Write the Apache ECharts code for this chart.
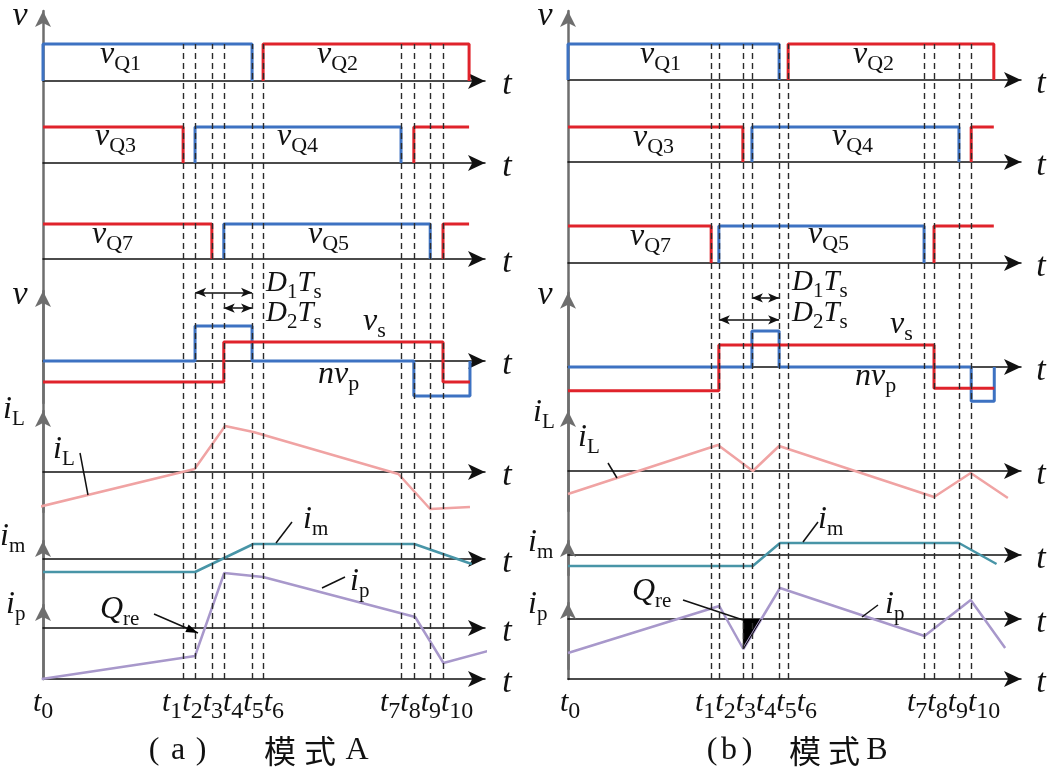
<!DOCTYPE html>
<html>
<head>
<meta charset="utf-8">
<script src="https://cdn.jsdelivr.net/npm/echarts@6/dist/echarts.min.js"></script>
<style>
html,body{margin:0;padding:0;background:#fff}
#chart{width:1050px;height:770px}
</style>
</head>
<body>
<div id="chart"></div>
<script>
// switching instants t0..t10 on a 0..100 time scale
const tA = [0, 31.7, 34.4, 38.2, 40.9, 47.3, 49.8, 81.0, 83.9, 87.6, 90.5];
const tB = [0, 31.6, 33.3, 38.6, 40.6, 46.6, 48.6, 78.6, 80.8, 86.3, 89.0];
const endA = 96.4, endB = 94.0;

// mode A gate signals ([time, level], drawn as steps)
const vQ1A = [[tA[0], 0], [tA[0], 1], [tA[5], 0]];
const vQ2A = [[tA[6], 0], [tA[6], 1], [endA, 0]];
const vQ3A = [[tA[0], 1], [tA[1], 0]];
const vQ4A = [[tA[2], 0], [tA[2], 1], [tA[7], 0]];
const vQ3Anext = [[tA[8], 0], [tA[8], 1], [endA, 1]];
const vQ7A = [[tA[0], 1], [tA[3], 0]];
const vQ5A = [[tA[4], 0], [tA[4], 1], [tA[9], 0]];
const vQ7Anext = [[tA[10], 0], [tA[10], 1], [endA, 1]];
// mode A transformer voltages
const nvpA = [[0, 0], [tA[2], 1], [tA[5], 0], [tA[8], -1], [96.6, 0]];
const vsA = [[0, -0.6], [tA[4], 0.54], [tA[10], -0.6], [96.6, -0.6]];
// mode A currents
const iLA = [[-1, -3.5], [34.3, 0.3], [41.2, 4.6], [47.6, 4.0], [80.4, -0.2], [87.6, -3.7], [96.6, -3.5]];
const imA = [[0, -1.3], [34.4, -1.3], [47.6, 1.5], [84.0, 1.5], [97.0, -0.5]];
const ipA = [[-0.3, -5.1], [34.4, -2.8], [41.0, 5.5], [49.8, 5.1], [84.2, 1.1], [90.6, -3.5], [100.7, -2.3]];

// mode B gate signals
const vQ1B = [[tB[0], 0], [tB[0], 1], [tB[5], 0]];
const vQ2B = [[tB[6], 0], [tB[6], 1], [endB, 0]];
const vQ3B = [[tB[0], 1], [tB[3], 0]];
const vQ4B = [[tB[4], 0], [tB[4], 1], [tB[9], 0]];
const vQ3Bnext = [[tB[10], 0], [tB[10], 1], [endB, 1]];
const vQ7B = [[tB[0], 1], [tB[1], 0]];
const vQ5B = [[tB[2], 0], [tB[2], 1], [tB[7], 0]];
const vQ7Bnext = [[tB[8], 0], [tB[8], 1], [endB, 1]];
const nvpB = [[0, 0], [tB[4], 1], [tB[5], 0], [tB[10], -0.95], [94.1, 0]];
const vsB = [[0, -0.66], [tB[2], 0.61], [tB[8], -0.59], [94.1, -0.59]];
const iLB = [[0, -2.3], [33.1, 2.6], [40.8, 0], [46.6, 2.5], [80.8, -2.6], [88.9, -0.2], [97.1, -2.7]];
const imB = [[0, -1.1], [40.8, -1.1], [46.8, 1.2], [86.3, 1.2], [94.6, -0.9]];
const ipB = [[0, -3.4], [33.4, 1.3], [38.7, -3.0], [46.8, 3.1], [78.7, -1.7], [88.9, 1.9], [96.5, -2.9]];

const BLUE = '#3d72c2', RED = '#e0232b', PINK = '#f0a3a3', TEAL = '#4895a7', LILAC = '#a898cb';
const AXIS = '#111', VAXIS = '#6e6e6e';
const FONT = '"Liberation Serif", "Times New Roman", serif';

let chart = echarts.init(document.getElementById('chart'));
let grids = [], xAxes = [], yAxes = [], series = [], graphics = [];

// one grid per trace row; axisY is the pixel row of the zero line
function addGrid(left, width, r) {
    let idx = grids.length;
    grids.push({left: left, width: width, top: r.axisY - r.max * r.ppu, height: (r.max - r.min) * r.ppu});
    xAxes.push({
        gridIndex: idx, type: 'value', min: 0, max: 100, show: r.x !== false,
        axisLine: {show: true, onZero: true, symbol: ['none', 'arrow'], symbolSize: [12, 17], lineStyle: {color: AXIS, width: 1.5}},
        axisTick: {show: false}, axisLabel: {show: false}, splitLine: {show: false}
    });
    yAxes.push({
        gridIndex: idx, type: 'value', min: r.min, max: r.max, show: !!r.y,
        axisLine: {show: true, symbol: ['none', 'arrow'], symbolSize: [12, 16], lineStyle: {color: VAXIS, width: 2.5}},
        axisTick: {show: false}, axisLabel: {show: false}, splitLine: {show: false}
    });
    return idx;
}

function wave(idx, data, color, width, step) {
    let s = {
        type: 'line', xAxisIndex: idx, yAxisIndex: idx, data: data, step: step ? 'end' : false,
        symbol: 'none', clip: false, silent: true, z: 3,
        lineStyle: {color: color, width: width}
    };
    series.push(s);
    return s;
}

function richSet(m, s, drop) {
    let p = Math.max(0, 2 * (0.34 * m + drop * m - 0.34 * s));
    return {
        m: {fontSize: m, fontStyle: 'italic', fontFamily: FONT, fill: '#111', lineHeight: m},
        s: {fontSize: s, fontFamily: FONT, fill: '#111', lineHeight: s, padding: [p, 0, 0, 0]}
    };
}

function label(x, base, text, m, s, drop) {
    graphics.push({
        type: 'text', x: x, y: base - 0.34 * m, silent: true, z: 50,
        style: {text: text, rich: richSet(m, s, drop == null ? 0.22 : drop), align: 'left', verticalAlign: 'middle'}
    });
}

function plain(x, y, text, size, family, italic) {
    graphics.push({
        type: 'text', x: x, y: y, silent: true, z: 50,
        style: {text: text, fontSize: size, fontFamily: family, fontStyle: italic ? 'italic' : 'normal',
            fill: '#111', align: 'center', verticalAlign: 'middle'}
    });
}

function leader(l, arrow) {
    graphics.push({type: 'line', silent: true, z: 50, shape: {x1: l[0], y1: l[1], x2: l[2], y2: l[3]},
        style: {stroke: '#111', lineWidth: 1.5}});
    if (arrow) {
        let dx = l[2] - l[0], dy = l[3] - l[1], len = Math.hypot(dx, dy);
        let ux = dx / len, uy = dy / len;
        let bx = l[2] - ux * 12, by = l[3] - uy * 12;
        graphics.push({type: 'polygon', silent: true, z: 50,
            shape: {points: [[l[2], l[3]], [bx - uy * 4, by + ux * 4], [bx + uy * 4, by - ux * 4]]},
            style: {fill: '#000'}});
    }
}

function sub(main, s) { return '{m|' + main + '}{s|' + s + '}'; }
function ticks(list) { return list.map(i => sub('t', i)).join(''); }

function buildPanel(p) {
    let g = p.rows.map(r => addGrid(p.left, p.width, r));
    let frame = addGrid(p.left, p.width, {axisY: 679, ppu: 668, min: 0, max: 1, y: true});
    let dash = addGrid(p.left, p.width, {axisY: 679, ppu: 635, min: 0, max: 1, x: false});
    wave(g[0], p.vQ1, BLUE, 3, true); wave(g[0], p.vQ2, RED, 3, true);
    wave(g[1], p.vQ3, RED, 3, true); wave(g[1], p.vQ4, BLUE, 3, true); wave(g[1], p.vQ3next, RED, 3, true);
    wave(g[2], p.vQ7, RED, 3, true); wave(g[2], p.vQ5, BLUE, 3, true); wave(g[2], p.vQ7next, RED, 3, true);
    let np = wave(g[3], p.nvp, BLUE, 3, true);
    wave(g[3], p.vs, RED, 3, true);
    np.markLine = {
        silent: true, symbol: ['arrow', 'arrow'], symbolSize: [7, 11], label: {show: false},
        lineStyle: {color: '#111', width: 1.5, type: 'solid'},
        data: p.dArrows.map(a => [{coord: [a[0], a[2]]}, {coord: [a[1], a[2]]}])
    };
    wave(g[4], p.iL, PINK, 2.5);
    wave(g[5], p.im, TEAL, 2.5);
    wave(g[6], p.ip, LILAC, 2.5);
    if (p.qre != null) {
        // reverse-charge area: from the ip corner to its zero crossing
        let a = p.ip[p.qre], b = p.ip[p.qre + 1];
        let cross = a[0] + (0 - a[1]) / (b[1] - a[1]) * (b[0] - a[0]);
        let q = wave(g[6], [[a[0], 0], a, [cross, 0]], '#000', 1);
        q.areaStyle = {color: '#000', opacity: 1};
    }
    series.push({
        type: 'line', xAxisIndex: dash, yAxisIndex: dash, data: [[0, 0]], symbol: 'none',
        lineStyle: {opacity: 0}, silent: true,
        markLine: {silent: true, symbol: ['none', 'none'], label: {show: false},
            lineStyle: {type: [6, 4], color: '#2b2b2b', width: 1.4},
            data: p.t.slice(1).map(t => ({xAxis: t}))}
    });
    // axis names
    plain(p.left - 23, 16, 'v', 34, FONT, true);
    plain(p.left - 23, 295, 'v', 34, FONT, true);
    p.rows.concat([{axisY: 679}]).forEach(r => plain(p.tX, r.axisY + 4, 't', 34, FONT, true));
    p.labels.forEach(l => label(l[0], l[1], l[2], l[3], l[4], l[5]));
    p.leaders.forEach((l, i) => leader(l, p.arrowLeader === i));
    p.caption.forEach(c => plain(c[0], 751, c[1], c[2], c[3], false));
}

const CJK = '"Noto Sans CJK SC", sans-serif';

buildPanel({
    left: 43, width: 442, tX: 507, t: tA,
    rows: [
        {axisY: 81, ppu: 37, min: 0, max: 1},
        {axisY: 163, ppu: 36, min: 0, max: 1},
        {axisY: 259, ppu: 35, min: 0, max: 1},
        {axisY: 361, ppu: 35, min: -1.2, max: 2.0, y: true},
        {axisY: 472, ppu: 10, min: -4, max: 6.1, y: true},
        {axisY: 559, ppu: 10, min: -2, max: 1.8, y: true},
        {axisY: 628, ppu: 10, min: -5.1, max: 2.3, y: true}
    ],
    vQ1: vQ1A, vQ2: vQ2A, vQ3: vQ3A, vQ4: vQ4A, vQ3next: vQ3Anext,
    vQ7: vQ7A, vQ5: vQ5A, vQ7next: vQ7Anext, nvp: nvpA, vs: vsA,
    iL: iLA, im: imA, ip: ipA, qre: null,
    dArrows: [[tA[2], tA[5], 1.96], [tA[4], tA[5], 1.51]],
    labels: [
        [100, 65, sub('v', 'Q1'), 32, 22], [317, 65, sub('v', 'Q2'), 32, 22],
        [95, 147, sub('v', 'Q3'), 32, 22], [277, 147, sub('v', 'Q4'), 32, 22],
        [92, 245, sub('v', 'Q7'), 32, 22], [308, 245, sub('v', 'Q5'), 32, 22],
        [266, 293, sub('D', 1) + sub('T', 's'), 29, 21], [266, 323, sub('D', 2) + sub('T', 's'), 29, 21],
        [363, 332, sub('v', 's'), 32, 22], [318, 385, sub('nv', 'p'), 32, 22],
        [3, 420, sub('i', 'L'), 32, 21], [53, 460, sub('i', 'L'), 32, 21],
        [0, 547, sub('i', 'm'), 32, 21], [6, 615, sub('i', 'p'), 32, 21],
        [303, 530, sub('i', 'm'), 32, 21], [350, 592, sub('i', 'p'), 32, 21],
        [100, 620, sub('Q', 're'), 32, 21],
        [33, 713, ticks([0]), 30, 24], [162, 713, ticks([1, 2, 3, 4, 5, 6]), 30, 24],
        [380, 713, ticks([7, 8, 9, 10]), 30, 24]
    ],
    leaders: [[80, 453, 88, 495], [276, 543, 292, 522], [322, 588, 345, 577], [154, 614, 198, 633]],
    arrowLeader: 3,
    caption: [[154, '(', 32, FONT], [178, 'a', 32, FONT], [201, ')', 32, FONT],
        [280, '模', 32, CJK], [320, '式', 32, CJK], [357, 'A', 32, FONT]]
});

buildPanel({
    left: 568, width: 453, tX: 1041, t: tB,
    rows: [
        {axisY: 80, ppu: 36, min: 0, max: 1},
        {axisY: 162, ppu: 35, min: 0, max: 1},
        {axisY: 263, ppu: 37, min: 0, max: 1},
        {axisY: 367, ppu: 36, min: -1.2, max: 2.06, y: true},
        {axisY: 471, ppu: 10, min: -4, max: 6.0, y: true},
        {axisY: 555, ppu: 10, min: -2, max: 1.4, y: true},
        {axisY: 619, ppu: 10, min: -5, max: 1.6, y: true}
    ],
    vQ1: vQ1B, vQ2: vQ2B, vQ3: vQ3B, vQ4: vQ4B, vQ3next: vQ3Bnext,
    vQ7: vQ7B, vQ5: vQ5B, vQ7next: vQ7Bnext, nvp: nvpB, vs: vsB,
    iL: iLB, im: imB, ip: ipB, qre: 2,
    dArrows: [[tB[4], tB[5], 1.92], [tB[2], tB[5], 1.31]],
    labels: [
        [640, 65, sub('v', 'Q1'), 32, 22], [853, 65, sub('v', 'Q2'), 32, 22],
        [633, 148, sub('v', 'Q3'), 32, 22], [832, 147, sub('v', 'Q4'), 32, 22],
        [630, 247, sub('v', 'Q7'), 32, 22], [808, 245, sub('v', 'Q5'), 32, 22],
        [792, 292, sub('D', 1) + sub('T', 's'), 29, 21], [792, 323, sub('D', 2) + sub('T', 's'), 29, 21],
        [890, 335, sub('v', 's'), 32, 22], [855, 387, sub('nv', 'p'), 32, 22],
        [533, 423, sub('i', 'L'), 32, 21], [578, 448, sub('i', 'L'), 32, 21],
        [528, 553, sub('i', 'm'), 32, 21], [528, 615, sub('i', 'p'), 32, 21],
        [818, 530, sub('i', 'm'), 32, 21], [885, 615, sub('i', 'p'), 32, 21],
        [632, 602, sub('Q', 're'), 32, 21],
        [560, 713, ticks([0]), 30, 24], [695, 713, ticks([1, 2, 3, 4, 5, 6]), 30, 24],
        [907, 713, ticks([7, 8, 9, 10]), 30, 24]
    ],
    leaders: [[608, 463, 617, 478], [803, 542, 818, 522], [862, 617, 878, 605], [683, 600, 743, 620]],
    arrowLeader: -1,
    caption: [[712, '(', 32, FONT], [729, 'b', 32, FONT], [747, ')', 32, FONT],
        [805, '模', 32, CJK], [844, '式', 32, CJK], [877, 'B', 32, FONT]]
});

chart.setOption({
    animation: false,
    backgroundColor: '#fff',
    grid: grids,
    xAxis: xAxes,
    yAxis: yAxes,
    series: series,
    graphic: graphics
});
</script>
</body>
</html>
